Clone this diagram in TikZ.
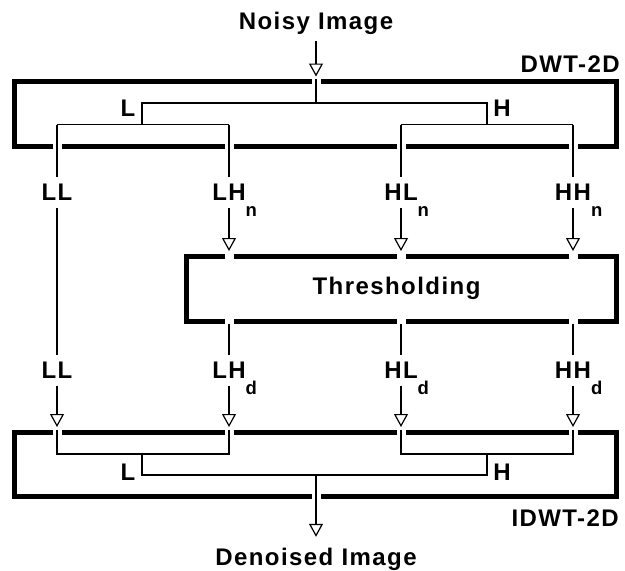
\documentclass[tikz,border=0pt]{standalone}
\usepackage{fontspec}
\setmainfont{Liberation Sans}[LetterSpace=6, UprightFont=* Bold]
\usetikzlibrary{arrows.meta}
\newcommand\dgBig{\fontsize{24}{28}\selectfont}
\newcommand\dgSub{\fontsize{18.5}{20}\selectfont}
\newcommand\dgsub[1]{\rlap{\raisebox{-16pt}{\dgSub #1}}}
\begin{document}
\begin{tikzpicture}[x=1pt,y=-1pt,
  blockbox/.style={draw, line width=5pt, inner sep=0pt, font=\dgBig},
  wire/.style={line width=1.2pt},
  arr/.style={wire, -{Triangle[open,fill=white,length=13pt,width=14pt]}, shorten >=2.5pt},
  lab/.style={font=\dgBig, text height=17pt, text depth=2pt, inner xsep=0pt, inner ysep=6pt, anchor=base},
  iotext/.style={font=\dgBig, text height=17pt, text depth=5pt, inner xsep=0pt, inner ysep=7pt, anchor=base},
  boxname/.style={font=\dgBig, inner sep=0pt, anchor=base east},
  gapfill/.style={fill=white}
]
\useasboundingbox (0,0) rectangle (625,571);

% blocks
\node[blockbox, minimum width=602.5pt, minimum height=65pt] (dwt) at (315.25,114) {};
\node[blockbox, minimum width=430pt, minimum height=65pt] (th) at (401.5,288.5) {\hspace*{-10pt}Thresholding};
\node[blockbox, minimum width=602.5pt, minimum height=64.5pt] (idwt) at (315.25,464.25) {};

% gaps in the thick borders
\foreach \x/\y in {316/81.5, 57/146.5, 229/146.5, 401/146.5, 573/146.5,
                   229/256, 401/256, 573/256, 229/321, 401/321, 573/321,
                   57/432, 229/432, 401/432, 573/432, 316/496.5}
  \fill[gapfill] (\x-4.5,\y-3.6) rectangle (\x+4.5,\y+3.6);

% texts
\node[iotext] (noisy) at (316,29) {Noisy Image};
\node[iotext] (den) at (316,565) {Denoised Image};
\node[boxname] (dwtname) at (620,72) {DWT-2D};
\node[boxname] (idwtname) at (619,526) {IDWT-2D};
\node[lab] (dl) at (128,116.5) {L};
\node[lab] (dh) at (502,116.5) {H};
\node[lab] (il) at (128,480) {L};
\node[lab] (ih) at (502,480) {H};

\node[lab] (a1) at (57,200) {LL};
\node[lab] (a2) at (229,200) {LH\dgsub{n}};
\node[lab] (a3) at (401,200) {HL\dgsub{n}};
\node[lab] (a4) at (573,200) {HH\dgsub{n}};
\node[lab] (b1) at (57,378) {LL};
\node[lab] (b2) at (229,378) {LH\dgsub{d}};
\node[lab] (b3) at (401,378) {HL\dgsub{d}};
\node[lab] (b4) at (573,378) {HH\dgsub{d}};

% junction coordinates
\coordinate (dA) at (316,103);
\coordinate (dL) at (142,103);
\coordinate (dH) at (487,103);
\coordinate (dLb) at (142,124.5);
\coordinate (dHb) at (487,124.5);
\coordinate (t1) at (57,124.5);
\coordinate (t2) at (229,124.5);
\coordinate (t3) at (401,124.5);
\coordinate (t4) at (573,124.5);
\coordinate (u1) at (57,454);
\coordinate (u2) at (229,454);
\coordinate (u3) at (401,454);
\coordinate (u4) at (573,454);
\coordinate (iL) at (142,475);
\coordinate (iH) at (487,475);
\coordinate (iLt) at (142,454);
\coordinate (iHt) at (487,454);
\coordinate (iA) at (316,475);

% DWT
\draw[arr] (noisy.south) -- (noisy.south |- dwt.north);
\draw[wire] (dA |- dwt.north) -- (dA);
\draw[wire] (dLb) -- (dL) -- (dH) -- (dHb);
\draw[wire] (t1) -- (t2);
\draw[wire] (t3) -- (t4);
\draw[wire] (t1) -- (a1.north);
\draw[wire] (t2) -- (a2.north);
\draw[wire] (t3) -- (a3.north);
\draw[wire] (t4) -- (a4.north);

% to thresholding
\draw[wire] (a1.south) -- (b1.north);
\draw[arr] (a2.south) -- (a2.south |- th.north);
\draw[arr] (a3.south) -- (a3.south |- th.north);
\draw[arr] (a4.south) -- (a4.south |- th.north);
\draw[wire] (b2.north |- th.south) -- (b2.north);
\draw[wire] (b3.north |- th.south) -- (b3.north);
\draw[wire] (b4.north |- th.south) -- (b4.north);

% to IDWT
\draw[arr] (b1.south) -- (b1.south |- idwt.north);
\draw[arr] (b2.south) -- (b2.south |- idwt.north);
\draw[arr] (b3.south) -- (b3.south |- idwt.north);
\draw[arr] (b4.south) -- (b4.south |- idwt.north);
\draw[wire] (u1 |- idwt.north) -- (u1) -- (u2) -- (u2 |- idwt.north);
\draw[wire] (u3 |- idwt.north) -- (u3) -- (u4) -- (u4 |- idwt.north);
\draw[wire] (iLt) -- (iL) -- (iH) -- (iHt);
\draw[arr, shorten >=4pt] (iA) -- (iA |- den.north);
\end{tikzpicture}
\end{document}
